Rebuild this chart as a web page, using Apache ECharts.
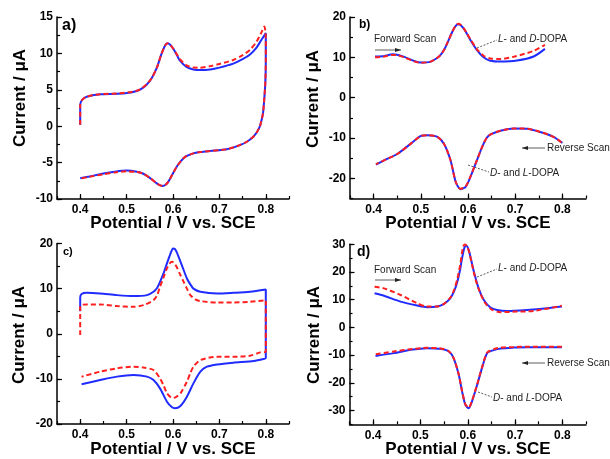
<!DOCTYPE html>
<html>
<head>
<meta charset="utf-8">
<script src="https://cdn.jsdelivr.net/npm/echarts@6/dist/echarts.min.js"></script>
<style>html,body{margin:0;padding:0;background:#fff;}#c{width:610px;height:459px;}</style>
</head>
<body>
<div id="c"></div>
<script>
// ---------- data: [potential V, current µA] ----------
const aBlue = [[0.400,0.2],[0.400,2.9],[0.404,3.6],[0.414,4.05],[0.443,4.38],[0.479,4.45],[0.505,4.6],[0.520,4.8],[0.530,5.05],[0.543,5.7],[0.554,6.6],[0.565,8.0],[0.575,9.9],[0.583,11.1],[0.588,11.4],[0.594,11.2],[0.601,10.6],[0.608,9.8],[0.615,9.0],[0.629,8.15],[0.644,7.8],[0.658,7.72],[0.680,7.8],[0.700,8.05],[0.730,8.6],[0.750,9.2],[0.766,9.85],[0.780,10.8],[0.790,11.8],[0.800,12.8],
  [0.800,9.0],[0.799,6.0],[0.797,4.0],[0.794,1.8],[0.790,0.6],[0.787,-0.07],[0.780,-0.9],[0.773,-1.44],[0.760,-2.1],[0.744,-2.6],[0.716,-3.17],[0.680,-3.41],[0.660,-3.55],[0.644,-3.73],[0.626,-4.2],[0.617,-4.8],[0.608,-5.56],[0.598,-6.7],[0.590,-7.62],[0.584,-8.05],[0.578,-8.2],[0.570,-8.05],[0.565,-7.85],[0.550,-7.1],[0.535,-6.5],[0.522,-6.25],[0.500,-6.1],[0.475,-6.25],[0.450,-6.5],[0.420,-6.9],[0.400,-7.15]];
const aRed = [[0.400,0.2],[0.400,2.9],[0.404,3.6],[0.414,4.05],[0.443,4.4],[0.479,4.5],[0.505,4.65],[0.520,4.85],[0.530,5.1],[0.543,5.75],[0.554,6.6],[0.565,8.0],[0.575,9.9],[0.583,11.1],[0.588,11.4],[0.594,11.2],[0.601,10.6],[0.608,9.9],[0.615,9.2],[0.629,8.35],[0.644,8.05],[0.658,8.04],[0.680,8.25],[0.700,8.55],[0.730,9.1],[0.750,9.75],[0.766,10.5],[0.780,11.6],[0.790,12.8],[0.797,13.7],
  [0.800,12.0],[0.800,9.0],[0.799,6.0],[0.797,4.0],[0.794,1.8],[0.790,0.6],[0.787,-0.07],[0.780,-0.9],[0.773,-1.44],[0.760,-2.1],[0.744,-2.6],[0.716,-3.17],[0.680,-3.41],[0.660,-3.55],[0.644,-3.73],[0.626,-4.2],[0.617,-4.8],[0.608,-5.56],[0.598,-6.7],[0.590,-7.62],[0.584,-8.05],[0.578,-8.2],[0.570,-8.05],[0.565,-7.85],[0.550,-7.1],[0.535,-6.5],[0.522,-6.3],[0.500,-6.2],[0.475,-6.35],[0.450,-6.6],[0.420,-6.95],[0.400,-7.2]];

const bBlueFwd = [[0.403,10.2],[0.423,10.35],[0.440,10.75],[0.452,10.6],[0.465,10.1],[0.486,9.1],[0.500,8.7],[0.512,8.75],[0.521,8.95],[0.533,9.7],[0.542,10.6],[0.550,12.0],[0.556,13.5],[0.567,16.4],[0.574,17.8],[0.579,18.2],[0.585,17.9],[0.591,17.1],[0.598,15.8],[0.605,14.3],[0.619,11.8],[0.633,10.0],[0.647,9.15],[0.669,8.95],[0.704,9.2],[0.739,10.2],[0.763,12.1]];
const bRedFwd = [[0.403,10.0],[0.423,10.2],[0.440,10.6],[0.452,10.5],[0.465,10.0],[0.486,9.0],[0.500,8.65],[0.512,8.75],[0.521,8.95],[0.533,9.7],[0.542,10.6],[0.550,12.0],[0.556,13.5],[0.567,16.4],[0.574,17.9],[0.579,18.3],[0.585,18.0],[0.591,17.2],[0.598,15.9],[0.605,14.5],[0.619,12.0],[0.633,10.4],[0.647,9.7],[0.669,9.6],[0.697,10.15],[0.739,11.6],[0.763,13.1]];
const bBlueRev = [[0.800,-11.2],[0.781,-9.7],[0.753,-8.5],[0.725,-7.7],[0.697,-7.65],[0.669,-8.2],[0.650,-9.0],[0.640,-9.9],[0.630,-12.2],[0.619,-15.5],[0.605,-19.7],[0.595,-22.1],[0.584,-22.7],[0.574,-20.9],[0.563,-15.5],[0.549,-11.4],[0.535,-9.7],[0.514,-9.3],[0.500,-9.5],[0.479,-11.4],[0.451,-13.9],[0.423,-15.5],[0.405,-16.6]];
const bRedRev = [[0.798,-11.1],[0.781,-9.7],[0.753,-8.5],[0.725,-7.7],[0.697,-7.65],[0.669,-8.2],[0.650,-9.0],[0.640,-9.9],[0.630,-12.2],[0.619,-15.5],[0.605,-19.6],[0.595,-22.0],[0.584,-22.6],[0.574,-20.9],[0.563,-15.5],[0.549,-11.4],[0.535,-9.7],[0.514,-9.3],[0.500,-9.5],[0.479,-11.4],[0.451,-13.9],[0.423,-15.5],[0.405,-16.5]];

const cBlue = [[0.400,5.0],[0.400,8.0],[0.403,8.8],[0.414,9.08],[0.443,8.93],[0.479,8.56],[0.515,8.34],[0.544,8.56],[0.558,9.3],[0.566,10.2],[0.572,11.5],[0.580,13.5],[0.587,15.6],[0.594,17.6],[0.600,18.9],[0.604,18.8],[0.608,18.1],[0.613,16.8],[0.619,15.2],[0.630,12.25],[0.637,11.0],[0.644,10.0],[0.659,9.3],[0.695,8.93],[0.730,9.08],[0.766,9.3],[0.800,9.8],
  [0.800,-5.4],[0.795,-5.6],[0.774,-6.05],[0.730,-6.4],[0.695,-6.8],[0.673,-7.3],[0.659,-8.4],[0.644,-11.0],[0.630,-13.95],[0.616,-16.0],[0.604,-16.5],[0.598,-16.3],[0.587,-15.05],[0.572,-12.1],[0.558,-10.26],[0.544,-9.5],[0.515,-9.15],[0.479,-9.5],[0.443,-10.26],[0.403,-11.2]];
const cRed = [[0.400,-0.3],[0.400,6.0],[0.403,6.4],[0.414,6.5],[0.443,6.5],[0.479,6.13],[0.515,5.98],[0.537,6.35],[0.558,7.45],[0.566,8.6],[0.572,10.4],[0.580,12.6],[0.587,14.5],[0.593,15.6],[0.598,15.95],[0.603,15.6],[0.608,14.8],[0.615,13.2],[0.623,11.5],[0.630,10.0],[0.637,8.6],[0.648,7.6],[0.659,7.23],[0.695,6.94],[0.730,6.94],[0.766,7.08],[0.800,7.45],
  [0.800,-4.0],[0.788,-4.13],[0.766,-4.87],[0.730,-5.1],[0.695,-5.1],[0.659,-5.83],[0.644,-7.3],[0.637,-8.8],[0.630,-10.6],[0.616,-13.2],[0.605,-14.1],[0.598,-14.2],[0.587,-13.2],[0.580,-11.5],[0.572,-9.9],[0.558,-8.04],[0.537,-7.5],[0.515,-7.3],[0.479,-7.67],[0.443,-8.4],[0.403,-9.52]];

const dBlueFwd = [[0.403,12.3],[0.423,11.4],[0.458,9.3],[0.493,7.9],[0.514,7.3],[0.535,7.5],[0.549,8.4],[0.563,10.5],[0.571,13.0],[0.578,16.5],[0.584,21.0],[0.588,25.0],[0.593,28.8],[0.597,29.5],[0.602,28.0],[0.607,24.5],[0.613,20.1],[0.623,14.1],[0.634,9.9],[0.648,7.2],[0.662,6.3],[0.683,5.95],[0.725,6.3],[0.768,6.9],[0.799,7.5]];
const dRedFwd = [[0.403,14.7],[0.423,14.1],[0.458,11.7],[0.493,8.7],[0.514,7.5],[0.535,7.5],[0.549,8.4],[0.563,10.7],[0.571,13.5],[0.578,17.5],[0.584,22.5],[0.590,29.0],[0.594,30.0],[0.599,29.2],[0.604,26.5],[0.610,22.0],[0.617,17.0],[0.625,13.0],[0.636,9.0],[0.650,6.5],[0.669,5.5],[0.704,5.7],[0.739,5.95],[0.799,7.8]];
const dBlueRev = [[0.799,-7.15],[0.754,-7.15],[0.725,-7.15],[0.697,-7.3],[0.670,-7.6],[0.655,-8.2],[0.641,-9.3],[0.630,-14.7],[0.620,-20.7],[0.609,-26.7],[0.602,-29.2],[0.595,-28.0],[0.588,-23.1],[0.581,-17.1],[0.570,-11.1],[0.560,-8.7],[0.542,-7.75],[0.514,-7.5],[0.479,-8.1],[0.444,-9.3],[0.405,-10.3]];
const dRedRev = [[0.799,-7.0],[0.754,-7.0],[0.725,-7.0],[0.697,-7.1],[0.670,-7.3],[0.655,-7.9],[0.641,-9.1],[0.630,-14.5],[0.620,-20.5],[0.609,-26.5],[0.602,-29.0],[0.595,-27.8],[0.588,-23.0],[0.581,-17.0],[0.570,-11.0],[0.560,-8.6],[0.542,-7.6],[0.514,-7.4],[0.479,-7.9],[0.444,-8.7],[0.405,-9.7]];

// ---------- tick labels ----------
const xTicks = [0.4, 0.5, 0.6, 0.7, 0.8];
const aTicks = [-10, -5, 0, 5, 10, 15];
const bTicks = [-20, -10, 0, 10, 20];
const cTicks = [-20, -10, 0, 10, 20];
const dTicks = [-30, -20, -10, 0, 10, 20, 30];

const FONT = 'Liberation Sans, Arial, sans-serif';
const BLUE = '#1f2bff', RED = '#ff1f1f';

const grids = [
  {left: 57, top: 17, width: 232, height: 182},
  {left: 350, top: 17, width: 236, height: 181.5},
  {left: 57, top: 243.5, width: 232, height: 180.5},
  {left: 349.5, top: 244.3, width: 236.5, height: 180}
];
const yCfg = [
  {min: -10, max: 15, minor: 2.5, ticks: aTicks},
  {min: -25, max: 20, minor: 5, ticks: bTicks},
  {min: -20, max: 20, minor: 5, ticks: cTicks},
  {min: -35, max: 30, minor: 5, ticks: dTicks}
];

const xAxis = [], yAxis = [];
grids.forEach((g, k) => {
  xAxis.push({type: 'value', gridIndex: k, position: 'bottom', min: 0.35, max: 0.85, interval: 0.05,
    axisLine: {show: true, onZero: false, lineStyle: {color: '#000', width: 1.5}},
    axisTick: {show: true, inside: true, length: 3, lineStyle: {color: '#000', width: 1.2}},
    axisLabel: {show: false}, splitLine: {show: false}});
  xAxis.push({type: 'value', gridIndex: k, position: 'bottom', min: 0.35, max: 0.85,
    axisLine: {show: false, onZero: false},
    axisTick: {show: true, inside: true, length: 5, customValues: xTicks, lineStyle: {color: '#000', width: 1.2}},
    axisLabel: {show: true, customValues: xTicks, formatter: v => Number(v).toFixed(1), color: '#000', fontWeight: 'bold', fontSize: 12, fontFamily: FONT, margin: 5},
    splitLine: {show: false}});
  const c = yCfg[k];
  yAxis.push({type: 'value', gridIndex: k, position: 'left', min: c.min, max: c.max, interval: c.minor,
    axisLine: {show: true, onZero: false, lineStyle: {color: '#000', width: 1.5}},
    axisTick: {show: true, inside: true, length: 3, lineStyle: {color: '#000', width: 1.2}},
    axisLabel: {show: false}, splitLine: {show: false}});
  yAxis.push({type: 'value', gridIndex: k, position: 'left', min: c.min, max: c.max,
    axisLine: {show: false, onZero: false},
    axisTick: {show: true, inside: true, length: 5, customValues: c.ticks, lineStyle: {color: '#000', width: 1.2}},
    axisLabel: {show: true, customValues: c.ticks, color: '#000', fontWeight: 'bold', fontSize: 12, fontFamily: FONT, margin: 4},
    splitLine: {show: false}});
});

function line(k, data, color, dashed) {
  return {type: 'line', xAxisIndex: 2 * k, yAxisIndex: 2 * k, data: data,
    showSymbol: false, smooth: 0.25, animation: false,
    lineStyle: {color: color, width: 2, type: dashed ? [5, 3] : 'solid'}};
}
const series = [
  line(0, aBlue, BLUE, false), line(0, aRed, RED, true),
  line(1, bBlueFwd, BLUE, false), line(1, bBlueRev, BLUE, false),
  line(1, bRedFwd, RED, true), line(1, bRedRev, RED, true),
  line(2, cBlue, BLUE, false), line(2, cRed, RED, true),
  line(3, dBlueFwd, BLUE, false), line(3, dBlueRev, BLUE, false),
  line(3, dRedFwd, RED, true), line(3, dRedRev, RED, true)
];

// ---------- text & annotations ----------
const gfx = [];
function txt(x, y, text, size, opts) {
  gfx.push(Object.assign({type: 'text', x: x, y: y, silent: true,
    style: Object.assign({text: text, font: 'bold ' + size + 'px ' + FONT, fill: '#000',
      textAlign: 'center', textVerticalAlign: 'middle'}, (opts && opts.style) || {})},
    (opts && opts.el) || {}));
}
const XT = 'Potential / V vs. SCE', YT = 'Current / \u03bcA';
[[173, 223], [468, 223], [173, 449], [468, 449]].forEach(p => txt(p[0], p[1], XT, 17));
[[20, 98], [313, 99], [19, 335], [314, 335]].forEach(p => txt(p[0], p[1], YT, 17, {el: {rotation: Math.PI / 2}}));
txt(62, 26, 'a)', 16, {style: {textAlign: 'left'}});
txt(359, 25, 'b)', 12, {style: {textAlign: 'left'}});
txt(63, 252, 'c)', 11, {style: {textAlign: 'left'}});
txt(357, 252, 'd)', 14, {style: {textAlign: 'left'}});

function note(x, y, text) {
  gfx.push({type: 'text', x: x, y: y, silent: true, style: {text: text, font: '10px ' + FONT, fill: '#222',
    textAlign: 'left', textVerticalAlign: 'middle', rich: {i: {fontStyle: 'italic', font: 'italic 10px ' + FONT, fill: '#222'}}}});
}
function seg(x1, y1, x2, y2, dashed) {
  gfx.push({type: 'line', silent: true, shape: {x1: x1, y1: y1, x2: x2, y2: y2},
    style: {stroke: '#333', lineWidth: 0.8, lineDash: dashed ? [2, 1.5] : null}});
}
function arrow(x1, y, x2) {
  seg(x1, y, x2, y, false);
  const d = x2 > x1 ? -1 : 1;
  gfx.push({type: 'polygon', silent: true, shape: {points: [[x2, y], [x2 + d * 6, y - 2], [x2 + d * 6, y + 2]]}, style: {fill: '#222'}});
}
// panel b
note(374, 39, 'Forward Scan'); arrow(375, 50, 401);
note(498, 39, '{i|L}- and {i|D}-DOPA'); seg(477, 48, 497, 40, true);
note(547, 148, 'Reverse Scan'); arrow(545, 148, 522);
note(490, 173, '{i|D}- and {i|L}-DOPA'); seg(468, 165, 489, 172, true);
// panel d
note(374, 270, 'Forward Scan'); arrow(375, 280, 401);
note(498, 268, '{i|L}- and {i|D}-DOPA'); seg(477, 277, 497, 269, true);
note(547, 363, 'Reverse Scan'); arrow(545, 363, 522);
note(493, 398, '{i|D}- and {i|L}-DOPA'); seg(478, 392, 492, 397, true);

const chart = echarts.init(document.getElementById('c'), null, {renderer: 'canvas'});
chart.setOption({
  backgroundColor: '#fff',
  animation: false,
  textStyle: {fontFamily: FONT},
  grid: grids.map(g => Object.assign({containLabel: false}, g)),
  xAxis: xAxis, yAxis: yAxis, series: series, graphic: gfx
});
</script>
</body>
</html>
